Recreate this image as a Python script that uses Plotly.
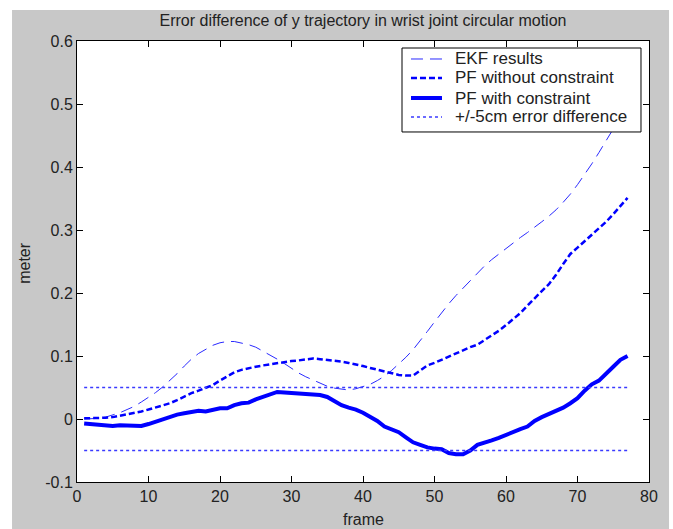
import plotly.graph_objects as go

# Frame index and per-frame y-trajectory error differences (metres)
frames = list(range(1, 78))

ekf_results = [
    0.000, 0.000, 0.001, 0.003, 0.006, 0.010, 0.015, 0.020, 0.027, 0.034,
    0.042, 0.051, 0.061, 0.072, 0.084, 0.095, 0.104, 0.111, 0.117, 0.121,
    0.123, 0.123, 0.121, 0.118, 0.114, 0.108, 0.102, 0.095, 0.088, 0.080,
    0.073, 0.067, 0.062, 0.057, 0.052, 0.049, 0.047, 0.046, 0.048, 0.051,
    0.055, 0.061, 0.068, 0.077, 0.087, 0.098, 0.110, 0.124, 0.139, 0.154,
    0.169, 0.183, 0.196, 0.208, 0.220, 0.232, 0.243, 0.253, 0.262, 0.271,
    0.280, 0.288, 0.296, 0.304, 0.313, 0.322, 0.332, 0.344, 0.357, 0.372,
    0.388, 0.405, 0.423, 0.442, 0.461, 0.480, 0.498,
]

pf_without_constraint = [
    0.001, 0.001, 0.001, 0.002, 0.003, 0.005, 0.007, 0.010, 0.012, 0.015,
    0.018, 0.021, 0.025, 0.030, 0.036, 0.041, 0.045, 0.049, 0.054, 0.061,
    0.068, 0.074, 0.078, 0.081, 0.083, 0.085, 0.087, 0.089, 0.090, 0.092,
    0.093, 0.094, 0.096, 0.095, 0.094, 0.093, 0.091, 0.089, 0.087, 0.084,
    0.081, 0.078, 0.075, 0.072, 0.070, 0.069, 0.069, 0.077, 0.085, 0.089,
    0.094, 0.099, 0.104, 0.110, 0.114, 0.118, 0.125, 0.132, 0.140, 0.149,
    0.158, 0.168, 0.180, 0.192, 0.203, 0.214, 0.229, 0.246, 0.262, 0.272,
    0.282, 0.293, 0.302, 0.313, 0.325, 0.338, 0.351,
]

pf_with_constraint = [
    -0.007, -0.008, -0.009, -0.010, -0.011, -0.010, -0.010, -0.011, -0.011, -0.008,
    -0.004, -0.001, 0.004, 0.007, 0.009, 0.011, 0.013, 0.012, 0.015, 0.017,
    0.017, 0.022, 0.025, 0.026, 0.031, 0.035, 0.039, 0.043, 0.042, 0.041,
    0.040, 0.039, 0.038, 0.038, 0.035, 0.029, 0.022, 0.018, 0.015, 0.010,
    0.004, -0.003, -0.012, -0.017, -0.021, -0.029, -0.037, -0.041, -0.045, -0.047,
    -0.048, -0.054, -0.056, -0.056, -0.050, -0.041, -0.038, -0.034, -0.030, -0.025,
    -0.021, -0.016, -0.012, -0.003, 0.003, 0.008, 0.012, 0.018, 0.025, 0.033,
    0.045, 0.055, 0.061, 0.071, 0.083, 0.094, 0.100,
]

error_bound = 0.05

x_ticks = [0, 10, 20, 30, 40, 50, 60, 70, 80]
y_ticks = [-0.1, 0, 0.1, 0.2, 0.3, 0.4, 0.5, 0.6]
y_tick_text = ["-0.1", "0", "0.1", "0.2", "0.3", "0.4", "0.5", "0.6"]

series_names = ["EKF results", "PF without constraint", "PF with constraint",
                "+/-5cm error difference"]

FONT = "Liberation Sans, Arial, Helvetica, sans-serif"
TEXT = "#222222"
BLUE = "#0000ff"

styles = [
    dict(color="#2a2aff", width=1, dash="12px,7px"),
    dict(color=BLUE, width=2.5, dash="6px,3px"),
    dict(color=BLUE, width=4, dash="solid"),
    dict(color="#3a3aff", width=1.5, dash="3px,3px"),
]

fig = go.Figure()

fig.add_trace(go.Scatter(x=frames, y=ekf_results, mode="lines",
                         name=series_names[0], line=styles[0]))
fig.add_trace(go.Scatter(x=frames, y=pf_without_constraint, mode="lines",
                         name=series_names[1], line=styles[1]))
fig.add_trace(go.Scatter(x=frames, y=pf_with_constraint, mode="lines",
                         name=series_names[2], line=styles[2]))
for bound in (error_bound, -error_bound):
    fig.add_trace(go.Scatter(x=[frames[0], frames[-1]], y=[bound, bound], mode="lines",
                             name=series_names[3], line=styles[3]))

# grey figure panel with a white axes box on top of it
fig.add_shape(type="rect", xref="paper", yref="paper",
              x0=-0.1136, x1=1.035, y0=-0.12, y1=1.0703,
              fillcolor="#c8c8c8", line=dict(width=0), layer="below")
fig.add_shape(type="rect", xref="paper", yref="paper",
              x0=0, x1=1, y0=0, y1=1,
              fillcolor="white", line=dict(width=0), layer="below")

# legend box in the upper-right corner of the axes
fig.add_shape(type="rect", xref="paper", yref="paper",
              x0=0.5682, x1=0.9860, y0=0.7937, y1=0.9841,
              fillcolor="white", line=dict(color="black", width=1), layer="above")
row_y = [0.9592, 0.9161, 0.8707, 0.8277]
for name, style, ry in zip(series_names, styles, row_y):
    fig.add_shape(type="line", xref="paper", yref="paper",
                  x0=0.5839, x1=0.6381, y0=ry, y1=ry,
                  line=style, layer="above")
    fig.add_annotation(text=name, xref="paper", yref="paper", x=0.6573, y=ry,
                       xanchor="left", yanchor="middle", showarrow=False,
                       font=dict(family=FONT, size=17, color=TEXT))

# axis titles
fig.add_annotation(text="meter", xref="paper", yref="paper", x=-0.0909, y=0.497,
                   xanchor="center", yanchor="middle", textangle=-90, showarrow=False,
                   font=dict(family=FONT, size=16, color=TEXT))
fig.add_annotation(text="frame", xref="paper", yref="paper", x=0.5, y=-0.084,
                   xanchor="center", yanchor="middle", showarrow=False,
                   font=dict(family=FONT, size=16, color=TEXT))

axis_common = dict(
    showgrid=False, zeroline=False, showline=True, linecolor="black",
    linewidth=1, mirror="ticks", ticks="inside", ticklen=6, tickcolor="black",
    tickfont=dict(family=FONT, size=16, color=TEXT),
)

fig.update_xaxes(range=[0, 80], tickvals=x_ticks, **axis_common)
fig.update_yaxes(range=[-0.1, 0.6], tickvals=y_ticks, ticktext=y_tick_text, **axis_common)

fig.update_layout(
    width=673, height=529,
    margin=dict(l=77, r=24, t=41, b=47),
    paper_bgcolor="white", plot_bgcolor="rgba(0,0,0,0)",
    title=dict(text="Error difference of y trajectory in wrist joint circular motion",
               font=dict(family=FONT, size=16, color=TEXT),
               x=0.5, xref="paper", xanchor="center", y=0.962, yanchor="middle"),
    showlegend=False,
)

fig.write_html("out.html")
